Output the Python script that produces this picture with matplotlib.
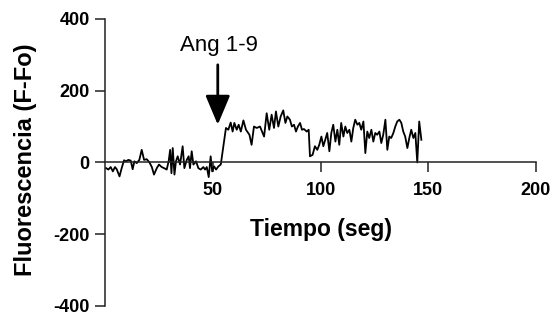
import matplotlib
matplotlib.use('Agg')
import matplotlib.pyplot as plt

plt.rcParams['font.family'] = ['Liberation Sans', 'DejaVu Sans']
plt.rcParams['axes.unicode_minus'] = False

# tiempo (seg) y fluorescencia (F-Fo)
tiempo = [0.5, 1.5, 2.6, 3.6, 4.6, 5.4, 6.7, 7.7, 8.8, 9.7, 10.8, 11.9, 12.8, 13.6,
          14.7, 15.9, 17.0, 18.1, 19.3, 20.6, 21.7, 22.7, 24.0, 25.0, 26.3, 27.4,
          28.6, 29.5, 30.2, 30.8, 31.4, 32.2, 32.9, 33.7, 34.8, 36.0, 36.8, 37.9,
          38.8, 39.4, 40.2, 41.0, 42.2, 43.3, 44.4, 45.6, 46.4, 47.2, 48.1, 49.0,
          49.7, 50.6, 51.5, 52.6, 53.7, 54.9, 56.1, 57.2, 58.3, 59.2, 60.0, 61.1,
          62.0, 63.0, 64.2, 65.4, 67.0, 68.0, 69.1, 70.4, 71.9, 73.8, 75.0, 76.2,
          77.3, 78.4, 79.3, 80.4, 81.5, 82.7, 83.7, 84.6, 85.8, 86.7, 87.7, 88.6,
          89.5, 90.5, 91.4, 92.3, 93.6, 94.5, 95.1, 96.3, 97.4, 98.5, 99.4, 100.4,
          101.3, 102.2, 103.1, 104.1, 105.0, 105.9, 106.9, 107.8, 108.7, 109.6,
          110.6, 111.5, 112.4, 113.4, 114.3, 115.2, 116.1, 117.1, 118.0, 118.9,
          119.9, 120.8, 121.7, 122.6, 123.6, 124.5, 125.4, 126.3, 127.3, 128.2,
          129.1, 130.1, 131.0, 131.9, 132.8, 133.8, 134.7, 135.6, 136.6, 137.5,
          138.4, 139.3, 140.3, 141.2, 142.1, 143.1, 144.0, 144.9, 145.8, 146.8]
fluor = [-16, -20, -13, -25, -13, -19, -39, -16, 6, 3, 7, 5, -19, 3,
         -2, 7, 35, 7, 9, 0, -13, -34, -16, -6, -13, -16,
         -20, 3, 35, -30, 40, -34, 3, 17, -6, 45, -16, 7,
         17, -16, 31, -6, 3, -16, -20, -13, -20, -13, -41, 17,
         -25, -11, -20, -11, -6, 45, 96, 91, 111, 86, 110, 91,
         105, 86, 117, 91, 77, 49, 100, 96, 100, 72, 137, 91,
         133, 96, 142, 100, 128, 145, 110, 128, 119, 100, 105, 86,
         100, 110, 91, 93, 86, 91, 17, 21, 45, 35, 49, 72,
         45, 63, 82, 31, 82, 105, 58, 91, 49, 110,
         72, 100, 82, 91, 58, 96, 119, 105, 110, 91,
         114, 26, 86, 68, 91, 58, 82, 77, 86, 54,
         77, 119, 35, 72, 68, 82, 100, 114, 119, 110,
         86, 72, 40, 68, 91, 68, 82, 0, 114, 63]

xticks = [50, 100, 150, 200]
yticks = [-400, -200, 0, 200, 400]

fig = plt.figure(figsize=(5.56, 3.2), dpi=100)
ax = fig.add_axes([0.189, 0.044, 0.775, 0.897])

ax.plot(tiempo, fluor, color='black', lw=1.3)

ax.set_xlim(0, 200)
ax.set_ylim(-400, 400)
ax.spines['top'].set_visible(False)
ax.spines['right'].set_visible(False)
ax.spines['bottom'].set_position(('data', 0))
for s in ['left', 'bottom']:
    ax.spines[s].set_linewidth(1.1)
    ax.spines[s].set_color('#222222')

ax.set_xticks(xticks)
ax.set_yticks(yticks)
ax.tick_params(axis='both', direction='out', length=7, width=1.1,
               color='#222222', labelsize=13)
ax.tick_params(axis='y', pad=4)
ax.tick_params(axis='x', pad=7)
for lbl in ax.get_xticklabels() + ax.get_yticklabels():
    lbl.set_fontweight('bold')

fig.text(26 / 556, 0.5, 'Fluorescencia (F-Fo)', fontsize=17, fontweight='bold',
         rotation=90, ha='center', va='center')
ax.text(100, -187, 'Tiempo (seg)', fontsize=16.5, fontweight='bold',
        ha='center', va='center')

ax.text(52.7, 325, 'Ang 1-9', fontsize=16, ha='center', va='center')
ax.annotate('', xy=(52.3, 105), xytext=(52.3, 272),
            arrowprops=dict(arrowstyle='-|>,head_width=0.42,head_length=1.0',
                            color='black', lw=2.0, mutation_scale=18,
                            shrinkA=0, shrinkB=0))

fig.savefig('out.png', dpi=100)
